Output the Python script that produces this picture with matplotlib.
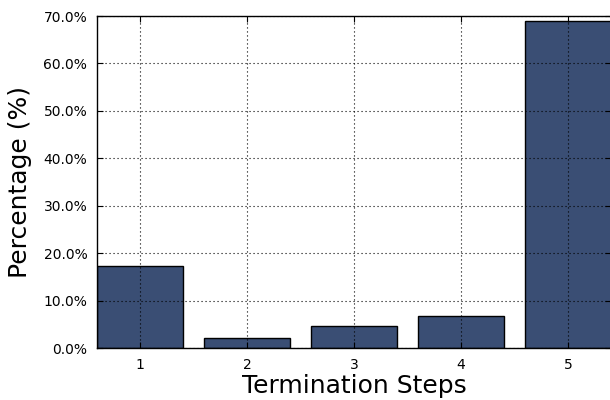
import matplotlib
matplotlib.use("Agg")
import matplotlib.pyplot as plt
from matplotlib.ticker import FuncFormatter

steps = [1, 2, 3, 4, 5]
percentages = [17.3, 2.1, 4.7, 6.8, 68.9]
bar_color = "#3a4e74"

fig = plt.figure(figsize=(6.1, 4.0), dpi=100)
ax = fig.add_axes([97 / 610, 52 / 400, 514 / 610, 332 / 400])

ax.bar(steps, percentages, width=0.8, color=bar_color, edgecolor="black",
       linewidth=1.0, zorder=2)

ax.set_xlim(0.6, 5.4)
ax.set_ylim(0, 70)
ax.set_xticks(steps)
ax.set_yticks(range(0, 71, 10))
ax.yaxis.set_major_formatter(FuncFormatter(lambda v, _: f"{v:.1f}%"))

ax.grid(True, linestyle=(0, (1, 2.6)), color="black", linewidth=0.8, zorder=3)
ax.set_axisbelow(False)
ax.tick_params(direction="in", top=True, right=True, labelsize=10,
               length=4, width=0.8, pad=7)
for s in ax.spines.values():
    s.set_linewidth(1.0)
    s.set_zorder(4)

ax.set_xlabel("Termination Steps", fontsize=18, labelpad=2)
ax.set_ylabel("Percentage (%)", fontsize=18, labelpad=8)

fig.savefig("out.png", dpi=100)
